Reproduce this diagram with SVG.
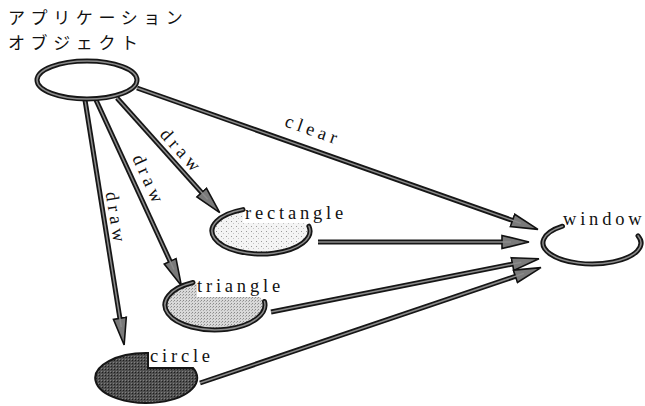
<svg xmlns="http://www.w3.org/2000/svg" width="645" height="406" viewBox="0 0 645 406">
  <style>
    .jp { font-family: "Noto Sans CJK JP", "Noto Sans", sans-serif; font-size: 17px; letter-spacing: 5.6px; fill: #111; }
    .lbl { font-family: "Liberation Serif", "DejaVu Serif", serif; font-size: 18.5px; letter-spacing: 3.8px; fill: #111; }
    .elab { font-family: "Liberation Serif", "DejaVu Serif", serif; font-size: 18.5px; letter-spacing: 4.5px; fill: #111; text-anchor: middle; }
    .ring-out { fill: none; stroke: #161616; stroke-width: 5; stroke-linecap: round; }
    .ring-in { fill: none; stroke: #8c8c8c; stroke-width: 1.5; stroke-linecap: round; }
    .edge-out { fill: none; stroke: #161616; stroke-width: 5; marker-end: url(#head); }
    .edge-in { fill: none; stroke: #8c8c8c; stroke-width: 1.5; }
    .mask { fill: #fff; }
  </style>
  <defs>
    <marker id="head" markerUnits="userSpaceOnUse" markerWidth="30" markerHeight="16" viewBox="0 0 30 16" refX="10" refY="8" orient="auto">
      <path d="M1,1.5 L28,8 L1,14.5 Z" fill="#7a7a7a" stroke="#111" stroke-width="1.6" stroke-linejoin="miter"/>
    </marker>
    <pattern id="dotsLight" width="5" height="5" patternUnits="userSpaceOnUse">
      <rect width="5" height="5" fill="#f4f4f4"/>
      <rect x="1" y="1" width="1" height="1" fill="#9a9a9a"/>
      <rect x="3" y="3" width="1" height="1" fill="#c4c4c4"/>
    </pattern>
    <pattern id="dotsMid" width="3" height="3" patternUnits="userSpaceOnUse">
      <rect width="3" height="3" fill="#d8d8d8"/>
      <rect x="0" y="0" width="1" height="1" fill="#8a8a8a"/>
      <rect x="2" y="1" width="1" height="1" fill="#a8a8a8"/>
    </pattern>
    <pattern id="dotsDark" width="3" height="3" patternUnits="userSpaceOnUse">
      <rect width="3" height="3" fill="#505050"/>
      <rect x="0" y="0" width="1" height="1" fill="#1e1e1e"/>
      <rect x="2" y="2" width="1" height="1" fill="#808080"/>
    </pattern>
  </defs>

  <rect width="645" height="406" fill="#fff"/>

  <!-- connectors: drawn first so the node outlines sit over their ends -->
  <g id="connectors">
    <g id="e-clear">
      <path class="edge-out" d="M137,88 L521,223.4"/>
      <path class="edge-in" d="M137,88 L521,223.4"/>
      <text class="elab" transform="translate(313,131) rotate(19.4)" y="5">clear</text>
    </g>
    <g id="e-draw-rect">
      <path class="edge-out" d="M117,98 L207.7,199.3"/>
      <path class="edge-in" d="M117,98 L207.7,199.3"/>
      <text class="elab" transform="translate(181,152) rotate(48)" y="5">draw</text>
    </g>
    <g id="e-draw-tri">
      <path class="edge-out" d="M96,100 L173.9,269.5"/>
      <path class="edge-in" d="M96,100 L173.9,269.5"/>
      <text class="elab" transform="translate(148,181) rotate(65.3)" y="5">draw</text>
    </g>
    <g id="e-draw-circle">
      <path class="edge-out" d="M85,100 L121.3,327.2"/>
      <path class="edge-in" d="M85,100 L121.3,327.2"/>
      <text class="elab" transform="translate(115,219) rotate(80.7)" y="5">draw</text>
    </g>
    <g id="e-rect-win">
      <path class="edge-out" d="M318,242 L511,242"/>
      <path class="edge-in" d="M318,242 L511,242"/>
    </g>
    <g id="e-tri-win">
      <path class="edge-out" d="M271,312 L521.3,262.3"/>
      <path class="edge-in" d="M271,312 L521.3,262.3"/>
    </g>
    <g id="e-circle-win">
      <path class="edge-out" d="M200,383 L523.9,273.4"/>
      <path class="edge-in" d="M200,383 L523.9,273.4"/>
    </g>
  </g>

  <!-- application object -->
  <g id="app">
    <text class="jp" x="8" y="24">アプリケーション</text>
    <text class="jp" x="8" y="49">オブジェクト</text>
    <ellipse class="ring-out" cx="87" cy="80" rx="50" ry="19" fill="#fff"/>
    <ellipse class="ring-in" cx="87" cy="80" rx="50" ry="19"/>
  </g>

  <!-- rectangle: open ring, light stipple -->
  <g id="rectangle">
    <ellipse cx="261" cy="231" rx="47" ry="21" fill="url(#dotsLight)"/>
    <rect class="mask" x="243" y="202" width="104" height="21"/>
    <text class="lbl" x="245" y="219">rectangle</text>
    <path class="ring-out" d="M243,209.6 A49,23 0 1 0 308.9,226.2"/>
    <path class="ring-in" d="M243,209.6 A49,23 0 1 0 308.9,226.2"/>
  </g>

  <!-- triangle: open ring, medium stipple -->
  <g id="triangle">
    <ellipse cx="215" cy="305" rx="48" ry="23" fill="url(#dotsMid)"/>
    <rect class="mask" x="197" y="276" width="88" height="21"/>
    <text class="lbl" x="197" y="292">triangle</text>
    <path class="ring-out" d="M193,282.5 A50,25 0 1 0 264.5,301.5"/>
    <path class="ring-in" d="M193,282.5 A50,25 0 1 0 264.5,301.5"/>
  </g>

  <!-- circle: dark pie with one quarter cut away -->
  <g id="circle">
    <path d="M148,353 L148,368 L193,368 A51,25 0 1 1 148,353 Z" fill="url(#dotsDark)" stroke="#161616" stroke-width="2"/>
    <text class="lbl" x="150" y="362">circle</text>
  </g>

  <!-- window: open ring -->
  <g id="window">
    <text class="lbl" x="563" y="225" letter-spacing="3.2">window</text>
    <path class="ring-out" d="M562.5,226.2 A49,21 0 1 0 638,235.8"/>
    <path class="ring-in" d="M562.5,226.2 A49,21 0 1 0 638,235.8"/>
  </g>
</svg>
